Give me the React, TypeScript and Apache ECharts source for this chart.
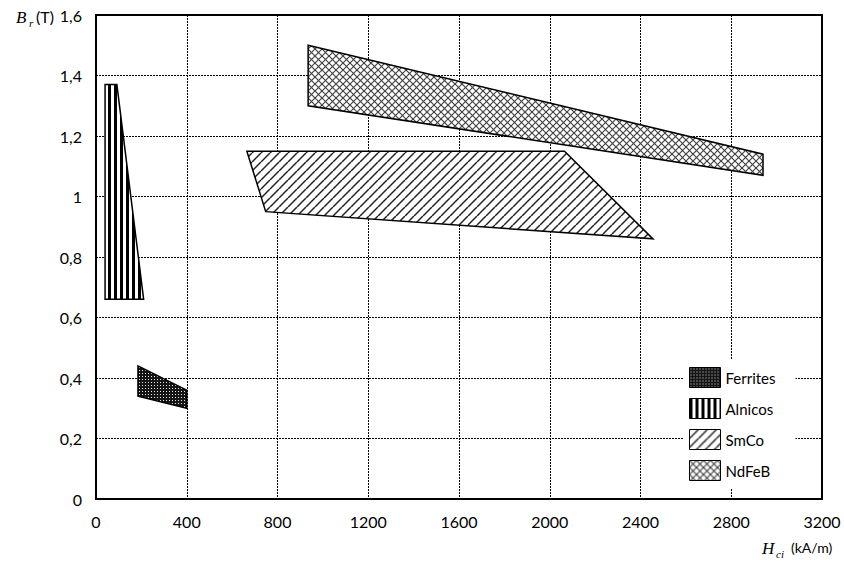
import React, { useEffect, useRef } from 'react';
import * as echarts from 'echarts';

// Polygon vertices [Hci (kA/m), Br (T)]
const ferrites = [[185, 0.44], [400, 0.36], [400, 0.30], [185, 0.34]];
const alnicos = [[40, 1.37], [92, 1.37], [210, 0.66], [40, 0.66]];
const smco = [[665, 1.15], [2065, 1.15], [2455, 0.86], [748, 0.95]];
const ndfeb = [[935, 1.5], [2940, 1.14], [2940, 1.07], [935, 1.3]];
const seriesNames = ['Ferrites', 'Alnicos', 'SmCo', 'NdFeB'];
const seriesData = [ferrites, alnicos, smco, ndfeb];

const xMin = 0, xMax = 3200, xStep = 400;
const yMin = 0, yMax = 1.6, yStep = 0.2;

const LABEL_FONT = 'Lato, "DejaVu Sans", sans-serif';
const SERIF = '"Liberation Serif", "DejaVu Serif", serif';

function makePattern(kind: string) {
  const c = document.createElement('canvas');
  let w = 8, h = 8;
  if (kind === 'Ferrites') { w = 3; h = 3; }
  if (kind === 'Alnicos') { w = 6; h = 6; }
  if (kind === 'SmCo') { w = 9; h = 9; }
  if (kind === 'NdFeB') { w = 7; h = 7; }
  c.width = w; c.height = h;
  const ctx = c.getContext('2d')!;
  ctx.fillStyle = '#fff';
  ctx.fillRect(0, 0, w, h);
  if (kind === 'Ferrites') {
    ctx.fillStyle = '#151515';
    ctx.fillRect(0, 0, w, h);
    ctx.fillStyle = '#e6e6e6';
    ctx.fillRect(1, 1, 1, 1);
  } else if (kind === 'Alnicos') {
    ctx.fillStyle = '#000';
    ctx.fillRect(0, 0, 3, h);
  } else if (kind === 'SmCo') {
    ctx.strokeStyle = '#222';
    ctx.lineWidth = 1.5;
    for (const k of [-w, 0, w]) {
      ctx.beginPath();
      ctx.moveTo(k, h);
      ctx.lineTo(k + w, 0);
      ctx.stroke();
    }
  } else if (kind === 'NdFeB') {
    ctx.strokeStyle = '#444';
    ctx.lineWidth = 1.2;
    for (const k of [-w, 0, w]) {
      ctx.beginPath();
      ctx.moveTo(k, h);
      ctx.lineTo(k + w, 0);
      ctx.stroke();
      ctx.beginPath();
      ctx.moveTo(k, 0);
      ctx.lineTo(k + w, h);
      ctx.stroke();
    }
  }
  return { image: c, repeat: 'repeat', imageWidth: w, imageHeight: h } as any;
}

function fmtY(v: number) {
  const r = Math.round(v * 10) / 10;
  return String(r).replace('.', ',');
}

function fmtX(v: number) {
  return String(Math.round(v));
}

export default function App() {
  const ref = useRef<HTMLDivElement>(null);
  useEffect(() => {
    if (!ref.current) return;
    const chart = echarts.init(ref.current, null, { renderer: 'svg' });
    const patterns = seriesNames.map((n) => makePattern(n));
    const series = seriesNames.map((name, i) => ({
      name,
      type: 'custom',
      data: seriesData[i],
      itemStyle: { color: patterns[i], borderColor: '#000', borderWidth: 1 },
      renderItem: (params: any, api: any) => {
        if (params.dataIndex !== 0) return null;
        const pts = seriesData[i].map((p) => api.coord(p));
        return {
          type: 'polygon',
          shape: { points: pts },
          style: { fill: patterns[i], stroke: '#000', lineWidth: 1.5 },
        };
      },
    }));
    chart.setOption({
      animation: false,
      backgroundColor: '#fff',
      grid: {
        left: 96, right: 22, top: 15, bottom: 64,
        show: true, borderColor: '#000', borderWidth: 2, backgroundColor: 'transparent',
      },
      xAxis: {
        type: 'value', min: xMin, max: xMax, interval: xStep,
        axisLine: { show: false }, axisTick: { show: false },
        axisLabel: { margin: 14, fontSize: 16, color: '#000', fontFamily: LABEL_FONT, formatter: fmtX },
        splitLine: { show: true, lineStyle: { color: '#000', width: 1, type: [2, 1] } },
      },
      yAxis: {
        type: 'value', min: yMin, max: yMax, interval: yStep,
        axisLine: { show: false }, axisTick: { show: false },
        axisLabel: { margin: 14, fontSize: 16, color: '#000', fontFamily: LABEL_FONT, formatter: fmtY },
        splitLine: { show: true, lineStyle: { color: '#000', width: 1, type: [2, 1] } },
      },
      legend: {
        orient: 'vertical', left: 683, top: 359,
        itemWidth: 31, itemHeight: 20, itemGap: 10,
        padding: [8, 20, 8, 6],
        backgroundColor: '#fff',
        icon: 'rect',
        itemStyle: { borderColor: '#000', borderWidth: 1 },
        textStyle: { fontSize: 15, color: '#000', fontFamily: LABEL_FONT },
        data: seriesNames,
        selectedMode: false,
      },
      graphic: [
        { type: 'text', left: 16, top: 9, style: { text: 'B', font: `italic 17px ${SERIF}`, fill: '#000' } },
        { type: 'text', left: 29, top: 17, style: { text: 'r', font: `italic 11px ${SERIF}`, fill: '#000' } },
        { type: 'text', left: 36, top: 8, style: { text: '(T)', font: `16px ${LABEL_FONT}`, fill: '#000' } },
        { type: 'text', left: 762, top: 540, style: { text: 'H', font: `italic 17px ${SERIF}`, fill: '#000' } },
        { type: 'text', left: 776, top: 548, style: { text: 'ci', font: `italic 11px ${SERIF}`, fill: '#000' } },
        { type: 'text', left: 791, top: 540, style: { text: '(kA/m)', font: `14px ${LABEL_FONT}`, fill: '#000' } },
      ],
      series,
    } as any);
    return () => chart.dispose();
  }, []);
  return <div ref={ref} style={{ width: 844, height: 563, position: 'absolute', left: 0, top: 0 }} />;
}
